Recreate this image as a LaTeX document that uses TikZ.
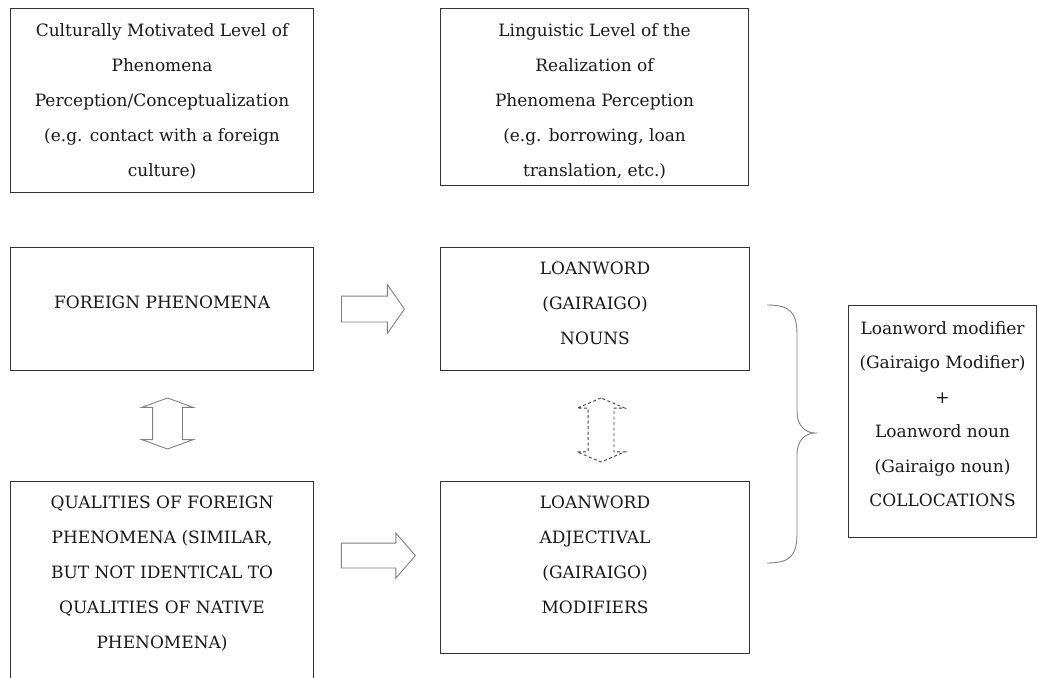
\documentclass[tikz,border=0pt]{standalone}
\usepackage{fontspec}
\setmainfont{DejaVu Serif}
\usepackage{tikz}
\usetikzlibrary{positioning,shapes.arrows}

\begin{document}
\begin{tikzpicture}[x=1pt,y=-1pt,
        box/.style={draw=black!80,line width=1.1pt,anchor=north west,inner sep=0pt},
        toptext/.style={anchor=north,align=center,inner sep=0pt,yshift=-15pt,text=black!90,font=\fontsize{17pt}{35pt}\selectfont},
        rarrow/.style={single arrow,draw=black!50,line width=0.9pt,inner xsep=0pt,inner ysep=12.5pt,single arrow head extend=11.5pt},
        udarrow/.style={double arrow,rotate=90,draw=black!50,line width=0.9pt,inner xsep=0pt,double arrow head extend=11pt},
        brace/.style={draw=black!50,line width=0.9pt}]
    \useasboundingbox (0,0) rectangle (1038,677);
    \clip (0,0) rectangle (1038,677);
    % levels
    \node[box,minimum width=303pt,minimum height=184pt,label={[toptext]north:{Culturally Motivated Level of\\Phenomena\\Perception/Conceptualization\\(e.g. contact with a foreign\\culture)}}] (cultural) at (10,8) {};
    \node[box,minimum width=308pt,minimum height=177pt,label={[toptext]north:{Linguistic Level of the\\Realization of\\Phenomena Perception\\(e.g. borrowing, loan\\translation, etc.)}}] (linguistic) at (440,8) {};
    % phenomena and loanwords
    \node[box,minimum width=303pt,minimum height=123pt,label={[toptext,yshift=-34pt]north:{FOREIGN PHENOMENA}}] (foreign) at (10,247) {};
    \node[box,minimum width=309pt,minimum height=123pt,label={[toptext]north:{LOANWORD\\(GAIRAIGO)\\NOUNS}}] (noun) at (440,247) {};
    \node[box,minimum width=303pt,minimum height=220pt,label={[toptext]north:{QUALITIES OF FOREIGN\\PHENOMENA (SIMILAR,\\BUT NOT IDENTICAL TO\\QUALITIES OF NATIVE\\PHENOMENA)}}] (qualities) at (10,481) {};
    \node[box,minimum width=309pt,minimum height=172pt,label={[toptext]north:{LOANWORD\\ADJECTIVAL\\(GAIRAIGO)\\MODIFIERS}}] (modifier) at (440,481) {};
    \node[box,minimum width=188pt,minimum height=232pt,label={[toptext,yshift=-1pt,font=\fontsize{17pt}{34.5pt}\selectfont]north:{Loanword modifier\\(Gairaigo Modifier)\\+\\Loanword noun\\(Gairaigo noun)\\COLLOCATIONS}}] (colloc) at (848,305) {};
    % block arrows
    \node[rarrow,minimum height=63pt,single arrow tip angle=110,left=35pt of noun] (nounarrow) {};
    \node[rarrow,inner ysep=12pt,minimum height=74pt,single arrow head extend=10pt,single arrow tip angle=98,left=24pt of modifier,yshift=12pt] (modarrow) {};
    \node[udarrow,inner ysep=14.5pt,minimum height=51pt,double arrow tip angle=140] (leftlink) at (167.5,423.5) {};
    \node[udarrow,draw=black!75,inner ysep=12.5pt,dash pattern=on 3pt off 2.5pt,minimum height=64pt,double arrow tip angle=134] (rightlink) at (601,430) {};
    % brace
    \coordinate (bracetop) at (767,305);
    \coordinate (bracebot) at (767,563);
    \path[brace] (bracetop) .. controls (790,305) and (797,312) .. (797,335) -- (797,412)
        .. controls (797,425) and (805,433) .. (815,433)
        .. controls (805,433) and (797,441) .. (797,454) -- (797,533)
        .. controls (797,556) and (790,563) .. (bracebot);
\end{tikzpicture}
\end{document}
